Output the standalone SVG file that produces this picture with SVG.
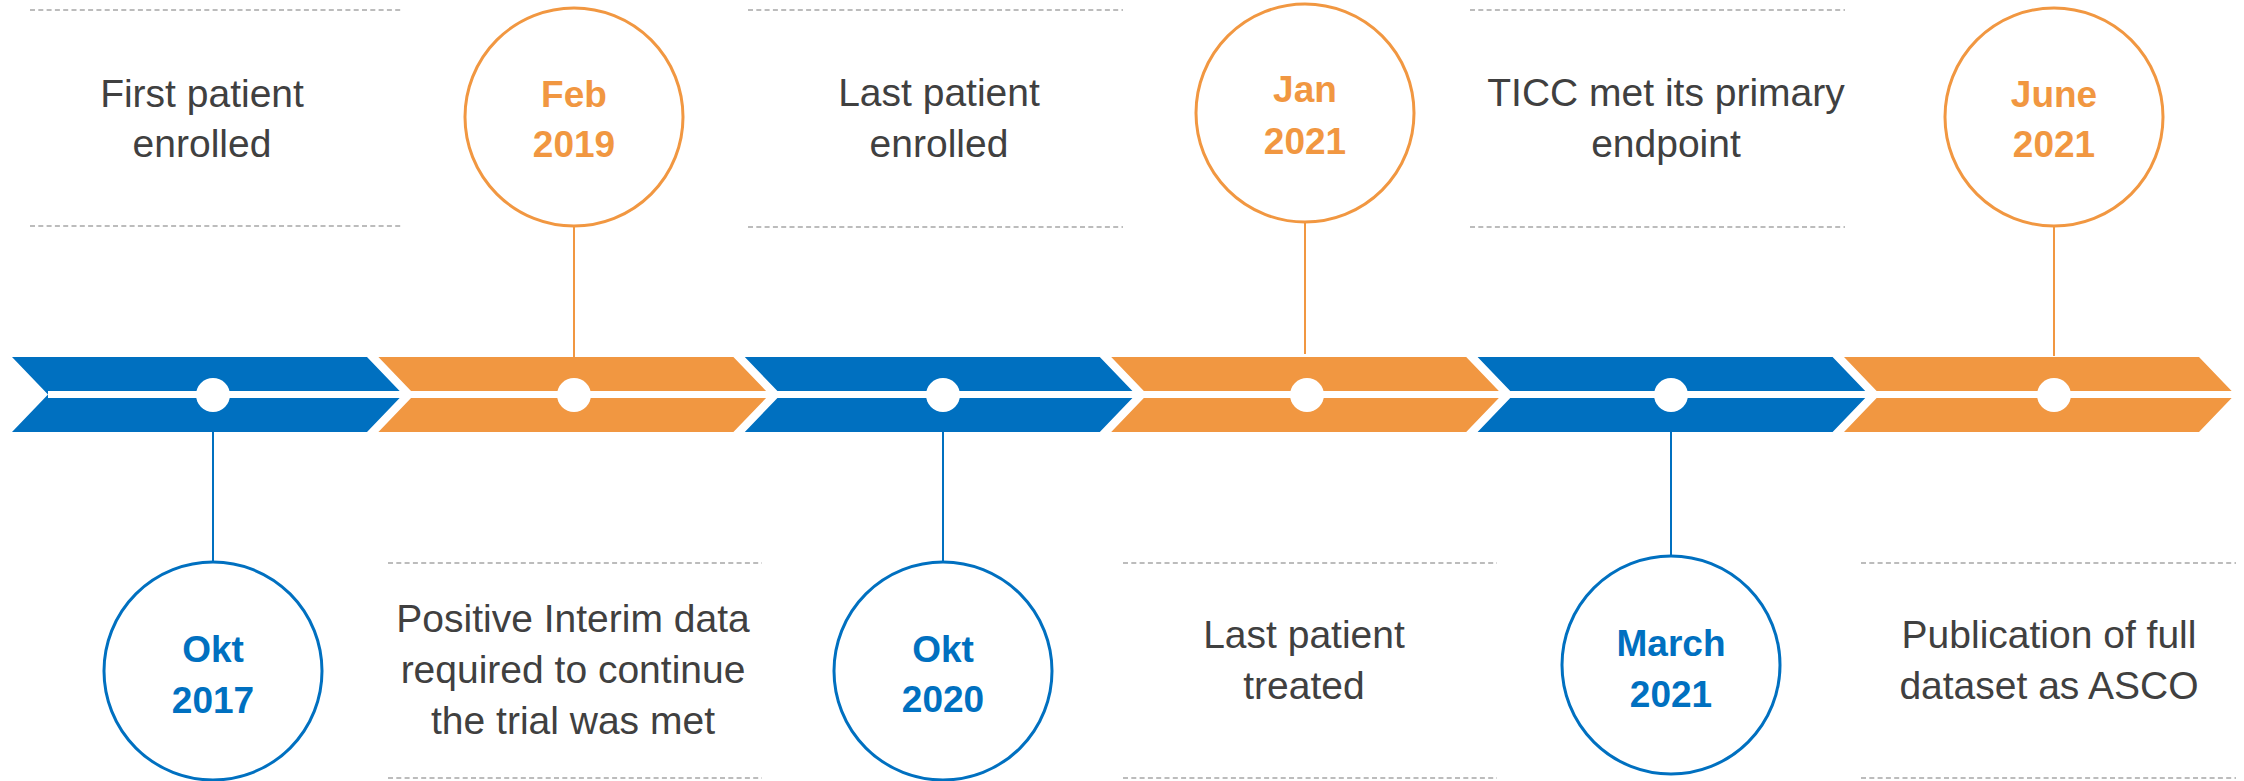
<svg xmlns="http://www.w3.org/2000/svg" width="2244" height="781" viewBox="0 0 2244 781">
<style>
.blue{fill:#0070C0}
.orange{fill:#F19741}
.dot{fill:#FFFFFF}
.cb{fill:#FFFFFF;stroke:#0070C0;stroke-width:3}
.co{fill:#FFFFFF;stroke:#F19741;stroke-width:3}
.lb{stroke:#0070C0;stroke-width:2;fill:none}
.lo{stroke:#F19741;stroke-width:2;fill:none}
.dash{stroke:#A6A6A6;stroke-width:1.3;stroke-dasharray:5 3.3;fill:none}
.txt{font-family:"Liberation Sans",Arial,sans-serif;font-size:39px;fill:#404040;text-anchor:middle}
.db{font-family:"Liberation Sans",Arial,sans-serif;font-size:37px;font-weight:bold;fill:#0070C0;text-anchor:middle}
.do{font-family:"Liberation Sans",Arial,sans-serif;font-size:37px;font-weight:bold;fill:#F19741;text-anchor:middle}
</style>
<rect width="2244" height="781" fill="#FFFFFF"/>
<g id="timeline">
<path class="blue" d="M12,357 H367 L403,394.5 L367,432 H12 L48,394.5 Z"/>
<path class="orange" d="M378.4,357 H733.4 L769.4,394.5 L733.4,432 H378.4 L414.4,394.5 Z"/>
<path class="blue" d="M744.8,357 H1099.8 L1135.8,394.5 L1099.8,432 H744.8 L780.8,394.5 Z"/>
<path class="orange" d="M1111.2,357 H1466.2 L1502.2,394.5 L1466.2,432 H1111.2 L1147.2,394.5 Z"/>
<path class="blue" d="M1477.6,357 H1832.6 L1868.6,394.5 L1832.6,432 H1477.6 L1513.6,394.5 Z"/>
<path class="orange" d="M1844,357 H2199 L2235,394.5 L2199,432 H1844 L1880,394.5 Z"/>
<line x1="48" y1="394.5" x2="2238" y2="394.5" stroke="#FFFFFF" stroke-width="7"/>
<circle class="dot" cx="213" cy="395" r="17"/>
<circle class="dot" cx="574" cy="395" r="17"/>
<circle class="dot" cx="943" cy="395" r="17"/>
<circle class="dot" cx="1307" cy="395" r="17"/>
<circle class="dot" cx="1671" cy="395" r="17"/>
<circle class="dot" cx="2054" cy="395" r="17"/>
</g>
<g id="connectors">
<line class="lb" x1="213" y1="432" x2="213" y2="562"/>
<line class="lo" x1="574" y1="226" x2="574" y2="357"/>
<line class="lb" x1="943" y1="432" x2="943" y2="562"/>
<line class="lo" x1="1305" y1="222" x2="1305" y2="354"/>
<line class="lb" x1="1671" y1="432" x2="1671" y2="556"/>
<line class="lo" x1="2054" y1="226" x2="2054" y2="356"/>
</g>
<g id="node-first-enrolled">
<line class="dash" x1="30" y1="10" x2="403" y2="10"/>
<line class="dash" x1="30" y1="226" x2="403" y2="226"/>
<text class="txt" x="202" y="107">First patient</text>
<text class="txt" x="202" y="157">enrolled</text>
</g>
<g id="node-okt-2017">
<circle class="cb" cx="213" cy="671" r="109"/>
<text class="db" x="213" y="662">Okt</text>
<text class="db" x="213" y="713">2017</text>
</g>
<g id="node-feb-2019">
<circle class="co" cx="574" cy="117" r="109"/>
<text class="do" x="574" y="107">Feb</text>
<text class="do" x="574" y="157">2019</text>
</g>
<g id="node-interim">
<line class="dash" x1="388" y1="563" x2="762" y2="563"/>
<line class="dash" x1="388" y1="778" x2="762" y2="778"/>
<text class="txt" x="573" y="632">Positive Interim data</text>
<text class="txt" x="573" y="683">required to continue</text>
<text class="txt" x="573" y="734">the trial was met</text>
</g>
<g id="node-last-enrolled">
<line class="dash" x1="748" y1="10" x2="1123" y2="10"/>
<line class="dash" x1="748" y1="227" x2="1123" y2="227"/>
<text class="txt" x="939" y="106">Last patient</text>
<text class="txt" x="939" y="157">enrolled</text>
</g>
<g id="node-okt-2020">
<circle class="cb" cx="943" cy="671" r="109"/>
<text class="db" x="943" y="662">Okt</text>
<text class="db" x="943" y="712">2020</text>
</g>
<g id="node-jan-2021">
<circle class="co" cx="1305" cy="113" r="109"/>
<text class="do" x="1305" y="102">Jan</text>
<text class="do" x="1305" y="154">2021</text>
</g>
<g id="node-last-treated">
<line class="dash" x1="1123" y1="563" x2="1497" y2="563"/>
<line class="dash" x1="1123" y1="778" x2="1497" y2="778"/>
<text class="txt" x="1304" y="648">Last patient</text>
<text class="txt" x="1304" y="699">treated</text>
</g>
<g id="node-primary-endpoint">
<line class="dash" x1="1470" y1="10" x2="1845" y2="10"/>
<line class="dash" x1="1470" y1="227" x2="1845" y2="227"/>
<text class="txt" x="1666" y="106">TICC met its primary</text>
<text class="txt" x="1666" y="157">endpoint</text>
</g>
<g id="node-march-2021">
<circle class="cb" cx="1671" cy="665" r="109"/>
<text class="db" x="1671" y="656">March</text>
<text class="db" x="1671" y="707">2021</text>
</g>
<g id="node-june-2021">
<circle class="co" cx="2054" cy="117" r="109"/>
<text class="do" x="2054" y="107">June</text>
<text class="do" x="2054" y="157">2021</text>
</g>
<g id="node-publication">
<line class="dash" x1="1861" y1="563" x2="2236" y2="563"/>
<line class="dash" x1="1861" y1="778" x2="2236" y2="778"/>
<text class="txt" x="2049" y="648">Publication of full</text>
<text class="txt" x="2049" y="699">dataset as ASCO</text>
</g>
</svg>
